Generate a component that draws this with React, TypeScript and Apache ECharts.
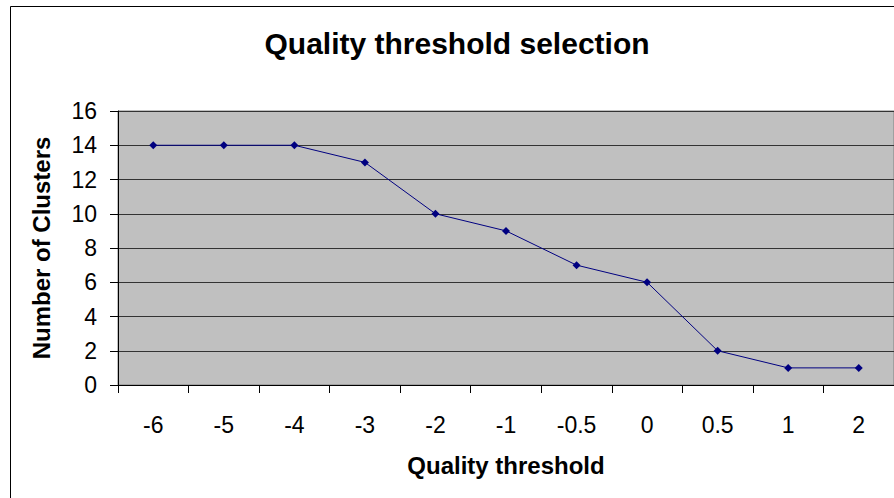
import React, { useEffect, useRef } from "react";
import * as echarts from "echarts";

const categories = ["-6", "-5", "-4", "-3", "-2", "-1", "-0.5", "0", "0.5", "1", "2"];
const clusters = [14, 14, 14, 13, 10, 9, 7, 6, 2, 1, 1];
const chartTitle = "Quality threshold selection";
const xTitle = "Quality threshold";
const yTitle = "Number of Clusters";

const FONT = "'Liberation Sans', Arial, sans-serif";

export default function App() {
  const ref = useRef<HTMLDivElement>(null);
  useEffect(() => {
    if (!ref.current) return;
    const chart = echarts.init(ref.current, null, { renderer: "svg" });
    chart.setOption({
      animation: false,
      backgroundColor: "#ffffff",
      textStyle: { fontFamily: FONT },
      graphic: [
        {
          type: "rect",
          shape: { x: 10.5, y: 6.5, width: 900, height: 500 },
          style: { fill: "none", stroke: "#000000", lineWidth: 1 },
          z: 0,
        },
        {
          type: "text",
          x: 457,
          y: 43,
          style: {
            text: chartTitle,
            fontFamily: FONT,
            fontWeight: "bold",
            fontSize: 30,
            fill: "#000000",
            textAlign: "center",
            textVerticalAlign: "middle",
          },
        },
      ],
      grid: {
        left: 118,
        top: 111,
        right: 0,
        bottom: 113,
        show: true,
        backgroundColor: "#C0C0C0",
        borderColor: "#808080",
        borderWidth: 1,
      },
      xAxis: {
        type: "category",
        data: categories,
        boundaryGap: true,
        name: xTitle,
        nameLocation: "middle",
        nameGap: 68,
        nameTextStyle: {
          fontFamily: FONT,
          fontWeight: "bold",
          fontSize: 24,
          color: "#000000",
          verticalAlign: "top",
        },
        axisLine: { show: true, lineStyle: { color: "#000000", width: 1 } },
        axisTick: { show: true, length: 8, inside: false, alignWithLabel: false, lineStyle: { color: "#000000" } },
        axisLabel: { fontFamily: FONT, fontSize: 23, color: "#000000", margin: 28, interval: 0 },
        splitLine: { show: false },
      },
      yAxis: {
        type: "value",
        min: 0,
        max: 16,
        interval: 2,
        name: yTitle,
        nameLocation: "middle",
        nameGap: 65,
        nameRotate: 90,
        nameTextStyle: {
          fontFamily: FONT,
          fontWeight: "bold",
          fontSize: 24,
          color: "#000000",
        },
        axisLine: { show: true, lineStyle: { color: "#000000", width: 1 } },
        axisTick: { show: true, length: 8, inside: false, lineStyle: { color: "#000000" } },
        axisLabel: { fontFamily: FONT, fontSize: 23, color: "#000000", margin: 21 },
        splitLine: { show: true, lineStyle: { color: "#333333", width: 1 } },
      },
      series: [
        {
          type: "line",
          data: clusters,
          symbol: "diamond",
          symbolSize: 8,
          lineStyle: { color: "#000080", width: 1 },
          itemStyle: { color: "#000080" },
        },
      ],
    });
    return () => chart.dispose();
  }, []);
  return (
    <div
      ref={ref}
      style={{ position: "absolute", left: 0, top: 0, width: 894, height: 498 }}
    />
  );
}
